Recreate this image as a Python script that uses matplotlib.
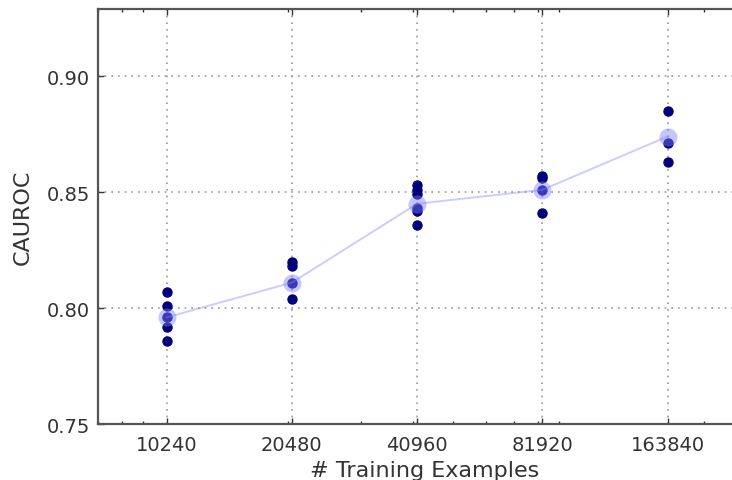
import matplotlib
matplotlib.use("Agg")
import matplotlib.pyplot as plt
from matplotlib.ticker import NullFormatter, FixedLocator

# training set sizes
sizes = [10240, 20480, 40960, 81920, 163840]

# individual runs
runs = [
    [0.807, 0.801, 0.796, 0.792, 0.786],
    [0.820, 0.818, 0.811, 0.804],
    [0.853, 0.851, 0.849, 0.843, 0.842, 0.836],
    [0.857, 0.856, 0.851, 0.841],
    [0.885, 0.871, 0.863],
]

# mean per size
means = [0.796, 0.811, 0.845, 0.851, 0.874]

yticks = [0.75, 0.80, 0.85, 0.90]

fig = plt.figure(figsize=(7.32, 4.81), dpi=100)
fig.patch.set_facecolor("white")
# axes runs past the right edge of the figure (cropped like the original)
ax = fig.add_axes([0.1339, 0.1164, 0.892, 0.8628])

for s, vals in zip(sizes, runs):
    ax.plot([s] * len(vals), vals, "o", color="#00007a", markersize=6.5,
            markeredgecolor="#00007a", zorder=3)

ax.plot(sizes, means, "-", color="#8080ff", alpha=0.4, linewidth=1.4, zorder=4)
ax.plot(sizes, means, "o", color="#8080ff", alpha=0.45, markersize=13,
        markeredgewidth=0, zorder=4)

ax.set_xscale("log")
ax.set_xlim(7000, 260000)
ax.set_ylim(0.75, 0.929)

ax.xaxis.set_major_locator(FixedLocator(sizes))
ax.set_xticklabels([str(s) for s in sizes])
ax.xaxis.set_minor_formatter(NullFormatter())
ax.set_yticks(yticks)
ax.set_yticklabels(["%.2f" % v for v in yticks])

ax.tick_params(which="both", direction="in", top=True, right=False,
               labelsize=14, colors="#333333", labelcolor="#333333")
ax.tick_params(which="major", length=4, width=1)
ax.tick_params(which="minor", length=2, width=1)
ax.tick_params(axis="x", pad=8)
ax.tick_params(axis="y", pad=6)

ax.grid(True, which="major", linestyle=(0, (1, 3)), color="#999999", linewidth=1.2)
ax.set_axisbelow(True)

for sp in ax.spines.values():
    sp.set_color("#555555")
    sp.set_linewidth(1.6)

ax.set_xlabel("# Training Examples", fontsize=16, color="#333333", labelpad=4)
ax.set_ylabel("CAUROC", fontsize=16, color="#333333", labelpad=10)

fig.savefig("out.png", dpi=100, facecolor="white")
